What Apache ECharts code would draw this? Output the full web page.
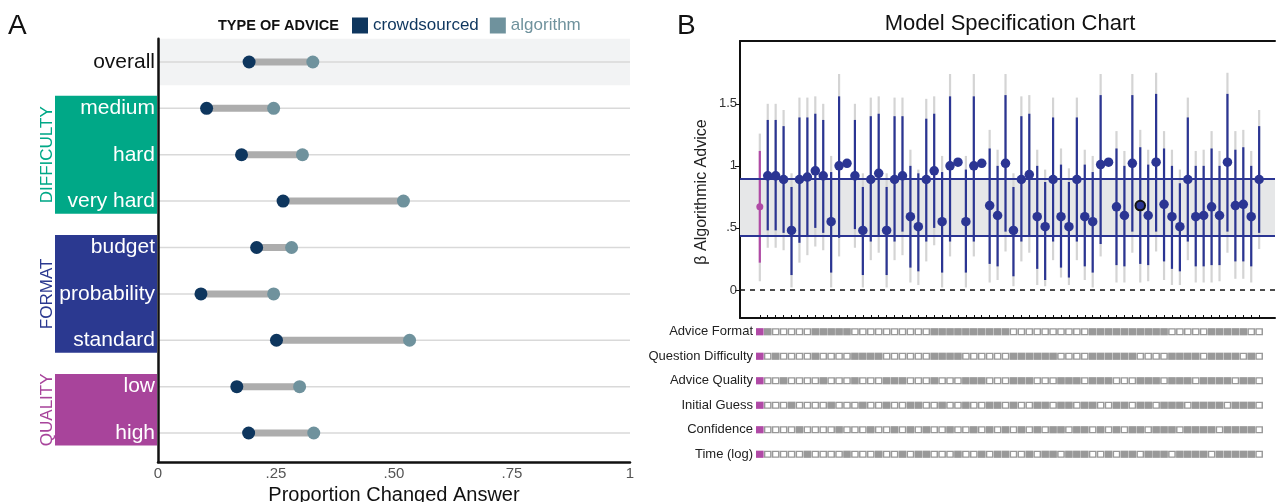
<!DOCTYPE html>
<html><head><meta charset="utf-8">
<script src="https://cdn.jsdelivr.net/npm/echarts@6/dist/echarts.min.js"></script>
<style>html,body{margin:0;padding:0;background:#fff}#c{width:1280px;height:502px}</style>
</head><body><div id="c"></div>
<script>
// ---------- Panel A data ----------
const rowLabels = ['overall','medium','hard','very hard','budget','probability','standard','low','high'];
const crowdValues = [0.193, 0.103, 0.177, 0.265, 0.209, 0.091, 0.251, 0.167, 0.192];
const algoValues  = [0.328, 0.245, 0.306, 0.520, 0.283, 0.245, 0.533, 0.300, 0.330];
const groupNames = ['DIFFICULTY','FORMAT','QUALITY'];
const groupFirstRow = [1, 4, 7];
const groupLastRow = [3, 6, 8];
const xTicksA = [0, 0.25, 0.5, 0.75, 1];
const xTickLabelsA = ['0', '.25', '.50', '.75', '1'];

// ---------- Panel B data ----------
const estimate = [0.67,0.92,0.92,0.89,0.48,0.89,0.91,0.96,0.92,0.55, 1.00,1.02,0.92,0.48,0.89,0.94,0.48,0.89,0.92,0.59,
  0.51,0.89,0.96,0.55,1.00,1.03,0.55,1.00,1.02,0.68, 0.60,1.02,0.48,0.89,0.93,0.59,0.51,0.89,0.59,0.51,
  0.89,0.59,0.55,1.01,1.03,0.67,0.60,1.02,0.68,0.60, 1.03,0.69,0.59,0.51,0.89,0.59,0.60,0.67,0.60,1.03,
  0.68,0.69,0.59,0.89];
const blueHi = [1.12,1.37,1.37,1.32,0.83,1.39,1.39,1.42,1.37,0.95, 1.56,null,1.37,0.83,1.40,1.42,0.83,1.40,1.40,1.00,
  0.94,1.38,1.42,0.95,1.56,null,0.97,1.56,null,1.14, 1.00,1.57,0.83,1.40,1.42,1.00,0.87,1.39,1.01,0.87,
  1.39,1.01,0.95,1.57,null,1.14,1.00,1.57,1.15,1.01, 1.58,1.14,1.00,0.86,1.39,1.00,1.00,1.14,1.00,1.58,
  1.13,1.15,1.00,1.32];
const blueLo = [0.22,0.48,0.48,0.46,0.12,0.38,0.43,0.50,0.46,0.14, 0.42,null,0.49,0.12,0.39,0.44,0.12,0.39,0.47,0.18,
  0.15,0.39,0.50,0.14,0.39,null,0.14,0.39,null,0.21, 0.19,0.47,0.11,0.39,0.43,0.17,0.08,0.39,0.18,0.10,
  0.39,0.19,0.14,0.37,null,0.20,0.19,0.47,0.21,0.20, 0.47,0.23,0.17,0.15,0.39,0.19,0.19,0.20,0.20,0.47,
  0.23,0.23,0.19,0.46];
const greyHi = [1.26,1.50,1.50,1.45,0.94,1.55,1.55,1.56,1.50,1.08, 1.74,null,1.50,0.94,1.55,1.56,0.94,1.55,1.55,1.13,
  0.97,1.54,1.56,1.08,1.74,null,1.08,1.74,null,1.29, 1.13,1.74,0.94,1.56,1.57,1.13,0.97,1.55,1.14,0.98,
  1.55,1.13,1.08,1.74,null,1.28,1.12,1.74,1.29,1.13, 1.75,1.28,1.13,0.97,1.55,1.12,1.13,1.28,1.12,1.75,
  1.28,1.29,1.12,1.45];
const greyLo = [0.07,0.34,0.34,0.32,0.02,0.22,0.28,0.35,0.32,0.02, 0.27,null,0.34,0.02,0.24,0.30,0.02,0.24,0.28,0.06,
  0.04,0.23,0.36,0.02,0.27,null,0.02,0.27,null,0.06, 0.08,0.31,0.03,0.23,0.30,0.04,0.03,0.24,0.10,0.04,
  0.24,0.08,0.02,0.27,null,0.06,0.06,0.30,0.06,0.07, 0.31,0.08,0.04,0.04,0.24,0.06,0.06,0.06,0.07,0.30,
  0.09,0.09,0.06,0.33];
const bandLow = 0.44;
const bandHigh = 0.895;
const highlightSpec = 49;
const yTicksB = [0, 0.5, 1, 1.5];
const yTickLabelsB = ['0', '.5', '1', '1.5'];
const specLabels = ['Advice Format','Question Difficulty','Advice Quality','Initial Guess','Confidence','Time (log)'];
// M = main specification, # = control included (filled), . = not included (empty)
const specRows = [
  'M' + '#.....' + '#####..........' + '##########..........' + '##########.....' + '#####.' + '.',
  'M' + '.#....' + '#....####......' + '####......######....' + '######....####.' + '####.#' + '.',
  'M' + '..#...' + '.#...#...###...' + '#...###...###...###.' + '###...###.###.#' + '###.##' + '.',
  'M' + '...#..' + '..#...#..#..##.' + '.#..#..##.#..##.##.#' + '#..##.##.###.##' + '##.###' + '.',
  'M' + '....#.' + '...#...#..#.#.#' + '..#..#.#.#.#.#.##.##' + '.#.#.##.###.###' + '#.####' + '.',
  'M' + '.....#' + '....#...#..#.##' + '...#..#.##..#.##.###' + '..#.##.###.####' + '.#####' + '.'
];

// ---------- styling ----------
const FONT = 'Liberation Sans, Arial, sans-serif';
const C_CROWD = '#0E365E', C_ALGO = '#6F929D', C_CONN = '#ADADAD';
const groupColors = ['#00A887', '#2B3990', '#A8449B'];
const C_BLUE = '#2B3593', C_MAG = '#B04AA6', C_CIGREY = '#D4D4D4', C_CELL = '#999999';

const specIdx = estimate.map((_, i) => i + 1);
const filledCells = [], emptyCells = [], mainCells = [];
specRows.forEach((row, r) => {
  row.split('').forEach((ch, c) => {
    const p = [c + 1, r];
    if (ch === 'M') mainCells.push(p); else if (ch === '#') filledCells.push(p); else emptyCells.push(p);
  });
});

function vline(api, color, width) {
  const x = api.value(0);
  const a = api.coord([x, api.value(1)]);
  const b = api.coord([x, api.value(2)]);
  return {type: 'line', shape: {x1: a[0], y1: a[1], x2: b[0], y2: b[1]}, style: {stroke: color, lineWidth: width}};
}

const chart = echarts.init(document.getElementById('c'), null, {renderer: 'canvas'});
const option = {
  animation: false,
  textStyle: {fontFamily: FONT},
  grid: [
    {left: 158, top: 38.8, width: 472, height: 423.2, outerBoundsMode: 'none', containLabel: false},
    {left: 55, top: 38.8, width: 102, height: 423.2, outerBoundsMode: 'none', containLabel: false},
    {left: 740, top: 41, width: 535, height: 277, outerBoundsMode: 'none', containLabel: false},
    {left: 740, top: 319.5, width: 535, height: 147, outerBoundsMode: 'none', containLabel: false}
  ],
  xAxis: [
    {gridIndex: 0, type: 'value', min: 0, max: 1, interval: 0.25, position: 'bottom',
     axisLine: {show: true, onZero: false, lineStyle: {color: '#111', width: 2.5}}, axisTick: {show: false},
     splitLine: {show: false},
     axisLabel: {customValues: xTicksA, formatter: v => xTickLabelsA[xTicksA.indexOf(v)], color: '#555', fontSize: 15, margin: 4},
     name: 'Proportion Changed Answer', nameLocation: 'middle', nameGap: 19,
     nameTextStyle: {fontSize: 20, color: '#111'}},
    {gridIndex: 1, type: 'value', min: 0, max: 1, show: false},
    {gridIndex: 2, type: 'value', min: -1.5, max: 66,
     axisLine: {show: true, onZero: false, lineStyle: {color: '#111', width: 2}},
     axisTick: {show: true, inside: true, length: 3, customValues: specIdx, lineStyle: {color: '#111', width: 1}},
     axisLabel: {show: false}, splitLine: {show: false}},
    {gridIndex: 2, type: 'value', min: -1.5, max: 66, position: 'top',
     axisLine: {show: true, onZero: false, lineStyle: {color: '#111', width: 2}},
     axisTick: {show: false}, axisLabel: {show: false}, splitLine: {show: false}},
    {gridIndex: 3, type: 'value', min: -1.5, max: 66, show: false}
  ],
  yAxis: [
    {gridIndex: 0, type: 'value', min: -0.5, max: 8.625, inverse: true, z: 10, position: 'left', name: '',
     axisLine: {show: true, onZero: false, lineStyle: {color: '#111', width: 2.5}}, axisTick: {show: false},
     splitLine: {show: false},
     axisLabel: {customValues: rowLabels.map((_, i) => i), margin: 3,
       formatter: v => (v === 0 ? '{o|' : '{w|') + rowLabels[v] + '}',
       rich: {o: {color: '#111', fontSize: 21, fontFamily: FONT}, w: {color: '#fff', fontSize: 21, fontFamily: FONT}}}},
    {gridIndex: 1, type: 'value', min: -0.5, max: 8.625, inverse: true, show: false},
    {gridIndex: 2, type: 'value', min: -0.226, max: 2.006,
     axisLine: {show: true, onZero: false, lineStyle: {color: '#111', width: 2}},
     axisTick: {show: true, length: 5, customValues: yTicksB, lineStyle: {color: '#111'}},
     axisLabel: {customValues: yTicksB, formatter: v => yTickLabelsB[yTicksB.indexOf(v)], color: '#333', fontSize: 13, margin: 3},
     splitLine: {show: false}},
    {gridIndex: 3, type: 'value', min: -0.5, max: 5.5, inverse: true,
     axisLine: {show: false}, axisTick: {show: false}, splitLine: {show: false},
     axisLabel: {customValues: specLabels.map((_, i) => i), formatter: v => specLabels[v], margin: -13, color: '#222', fontSize: 13}}
  ],
  legend: {
    left: 352, top: 17, padding: 0, icon: 'rect', itemWidth: 16, itemHeight: 16, itemGap: 11, selectedMode: false,
    textStyle: {fontSize: 17, fontFamily: FONT},
    data: [{name: 'crowdsourced', textStyle: {color: C_CROWD}}, {name: 'algorithm', textStyle: {color: C_ALGO}}]
  },
  graphic: [
    {type: 'text', x: 8, y: 26, style: {text: 'A', font: '28px ' + FONT, fill: '#111', verticalAlign: 'middle'}},
    {type: 'text', x: 677, y: 26, style: {text: 'B', font: '28px ' + FONT, fill: '#111', verticalAlign: 'middle'}},
    {type: 'text', x: 218, y: 26, style: {text: 'TYPE OF ADVICE', font: 'bold 14.5px ' + FONT, fill: '#111', verticalAlign: 'middle'}},
    {type: 'text', x: 1010, y: 24, style: {text: 'Model Specification Chart', font: '22px ' + FONT, fill: '#111', align: 'center', verticalAlign: 'middle'}},
    {type: 'text', x: 702, y: 192, rotation: Math.PI / 2, style: {text: 'β Algorithmic Advice', font: '16px ' + FONT, fill: '#222', align: 'center', verticalAlign: 'middle'}}
  ],
  series: [
    // Panel A
    {type: 'custom', name: 'rows', xAxisIndex: 0, yAxisIndex: 0, z: 1, silent: true,
     data: rowLabels.map((_, i) => [i]),
     renderItem: (params, api) => {
       const i = api.value(0); const a = api.coord([0, i]); const b = api.coord([1, i]);
       const children = [];
       if (i === 0) {
         const t = api.coord([0, i - 0.5]); const u = api.coord([1, i + 0.5]);
         children.push({type: 'rect', shape: {x: t[0], y: t[1], width: u[0] - t[0], height: u[1] - t[1]}, style: {fill: '#F2F3F4'}});
       }
       children.push({type: 'line', shape: {x1: a[0], y1: a[1], x2: b[0], y2: b[1]}, style: {stroke: '#D9D9D9', lineWidth: 1.5}});
       return {type: 'group', children};
     }},
    {type: 'custom', name: 'connectors', xAxisIndex: 0, yAxisIndex: 0, z: 2, silent: true,
     data: crowdValues.map((c, i) => [c, algoValues[i], i]),
     renderItem: (params, api) => {
       const a = api.coord([api.value(0), api.value(2)]); const b = api.coord([api.value(1), api.value(2)]);
       return {type: 'line', shape: {x1: a[0], y1: a[1], x2: b[0], y2: b[1]}, style: {stroke: C_CONN, lineWidth: 7}};
     }},
    {type: 'scatter', name: 'crowdsourced', xAxisIndex: 0, yAxisIndex: 0, z: 3, symbolSize: 13,
     itemStyle: {color: C_CROWD, opacity: 1}, data: crowdValues.map((v, i) => [v, i])},
    {type: 'scatter', name: 'algorithm', xAxisIndex: 0, yAxisIndex: 0, z: 3, symbolSize: 13,
     itemStyle: {color: C_ALGO, opacity: 1}, data: algoValues.map((v, i) => [v, i])},
    {type: 'custom', name: 'groups', xAxisIndex: 1, yAxisIndex: 1, z: 2, silent: true,
     data: groupNames.map((g, i) => [i, groupFirstRow[i], groupLastRow[i]]),
     renderItem: (params, api) => {
       const gi = api.value(0);
       const p1 = api.coord([0, api.value(1) - 0.27]); const p2 = api.coord([1, api.value(2) + 0.27]);
       return {type: 'group', children: [
         {type: 'rect', shape: {x: p1[0], y: p1[1], width: p2[0] - p1[0], height: p2[1] - p1[1]}, style: {fill: groupColors[gi]}},
         {type: 'text', x: p1[0] - 8, y: (p1[1] + p2[1]) / 2, rotation: Math.PI / 2,
          style: {text: groupNames[gi], fill: groupColors[gi], font: '17px ' + FONT, align: 'center', verticalAlign: 'middle'}}
       ]};
     }},
    // Panel B
    {type: 'scatter', name: 'band', xAxisIndex: 2, yAxisIndex: 2, z: 1, silent: true, data: [],
     markArea: {silent: true, label: {show: false}, itemStyle: {color: '#E6E7E8'}, data: [[{yAxis: bandLow}, {yAxis: bandHigh}]]},
     markLine: {silent: true, symbol: ['none', 'none'], label: {show: false},
       data: [
         {yAxis: bandLow, lineStyle: {color: C_BLUE, width: 2, type: 'solid'}},
         {yAxis: bandHigh, lineStyle: {color: C_BLUE, width: 2, type: 'solid'}},
         {yAxis: 0, lineStyle: {color: '#111', width: 1.5, type: [5, 5]}}
       ]}},
    {type: 'custom', name: 'ci95', xAxisIndex: 2, yAxisIndex: 2, z: 2, silent: true,
     data: specIdx.map((x, i) => [x, greyLo[i], greyHi[i]]).filter(d => d[1] !== null),
     renderItem: (params, api) => vline(api, C_CIGREY, 2.2)},
    {type: 'custom', name: 'ci90', xAxisIndex: 2, yAxisIndex: 2, z: 3, silent: true,
     data: specIdx.map((x, i) => [x, blueLo[i], blueHi[i]]).filter(d => d[1] !== null),
     renderItem: (params, api) => vline(api, api.value(0) === 1 ? C_MAG : C_BLUE, 2.2)},
    {type: 'scatter', name: 'estimate', xAxisIndex: 2, yAxisIndex: 2, z: 4,
     symbolSize: (val, p) => (p.dataIndex === 0 ? 7 : 9.5),
     itemStyle: {color: p => (p.dataIndex === 0 ? C_MAG : C_BLUE), opacity: 1},
     data: estimate.map((v, i) => (i + 1 === highlightSpec
       ? {value: [i + 1, v], itemStyle: {borderColor: '#111', borderWidth: 2}}
       : [i + 1, v]))},
    {type: 'scatter', name: 'included', xAxisIndex: 4, yAxisIndex: 3, symbol: 'rect', symbolSize: [7.6, 7.2],
     itemStyle: {color: C_CELL, opacity: 1}, data: filledCells},
    {type: 'scatter', name: 'excluded', xAxisIndex: 4, yAxisIndex: 3, symbol: 'rect', symbolSize: [6.2, 5.8],
     itemStyle: {color: '#fff', borderColor: C_CELL, borderWidth: 1.4, opacity: 1}, data: emptyCells},
    {type: 'scatter', name: 'main', xAxisIndex: 4, yAxisIndex: 3, symbol: 'rect', symbolSize: [7.6, 7.2],
     itemStyle: {color: C_MAG, opacity: 1}, data: mainCells}
  ]
};
chart.setOption(option);
</script></body></html>
